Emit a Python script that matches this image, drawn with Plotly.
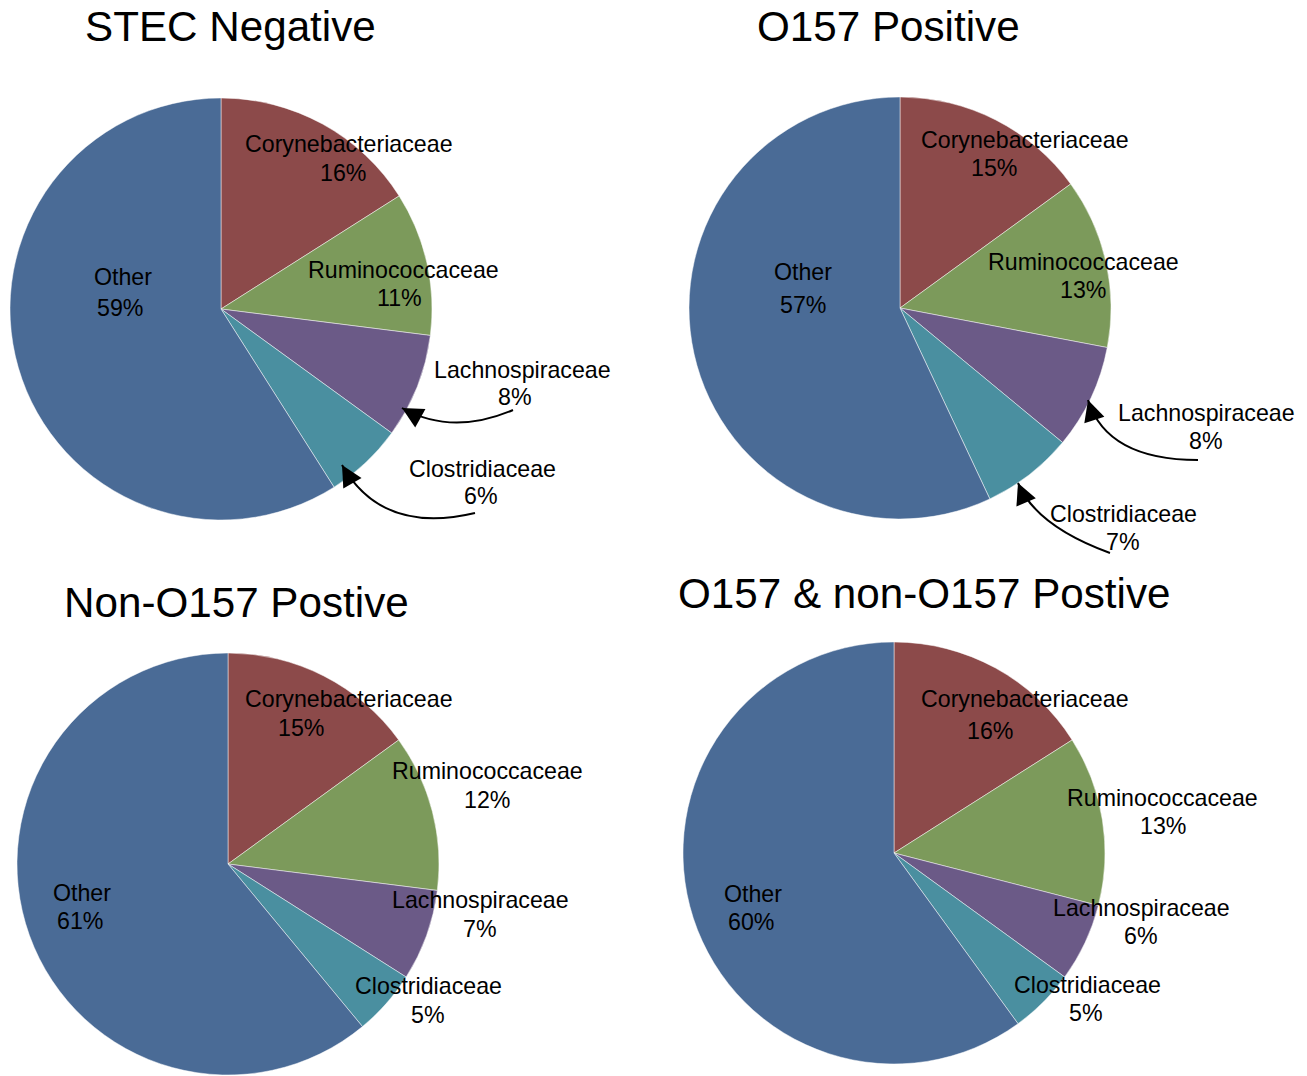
import plotly.graph_objects as go

W, H = 1307, 1076

# Families shown in every pie, in clockwise order from 12 o'clock
families = ["Corynebacteriaceae", "Ruminococcaceae", "Lachnospiraceae",
            "Clostridiaceae", "Other"]
colors = ["#8C4A4A", "#7C9A5B", "#6B5A87", "#4A8FA0", "#4A6B96"]

# Relative abundance (%) per sample group
titles = ["STEC Negative", "O157 Positive", "Non-O157 Postive",
          "O157 & non-O157 Postive"]
stec_negative = [16, 11, 8, 6, 59]
o157_positive = [15, 13, 8, 7, 57]
non_o157_positive = [15, 12, 7, 5, 61]
both_positive = [16, 13, 6, 5, 60]
groups = [stec_negative, o157_positive, non_o157_positive, both_positive]

# Pie centres and radius in pixels
centers = [(221, 309), (900, 308), (228, 864), (894, 853)]
radius = 211
title_pos = [(230, 27), (888, 27), (236, 603), (925, 594)]

# Label placement per pie: (name x, name y, pct x, pct y) for each family
label_pos = [
    [(349, 144, 343, 173), (404, 270, 399, 298), (522, 370, 515, 397),
     (482, 469, 481, 496), (123, 277, 120, 308)],
    [(1025, 140, 994, 168), (1083, 262, 1083, 290), (1206, 413, 1206, 441),
     (1123, 514, 1123, 542), (803, 272, 803, 305)],
    [(349, 699, 301, 728), (487, 771, 487, 800), (480, 900, 480, 929),
     (428, 986, 428, 1015), (82, 893, 80, 921)],
    [(1025, 699, 990, 731), (1162, 798, 1163, 826), (1141, 908, 1141, 936),
     (1087, 985, 1086, 1013), (753, 894, 751, 922)],
]

# Curved leader arrows: (tail, control, tip) in pixels
arrows = [
    ((513, 410), (452, 436), (402, 408)),
    ((475, 513), (382, 535), (342, 465)),
    ((1198, 460), (1107, 460), (1088, 400)),
    ((1110, 553), (1036, 526), (1018, 483)),
]


def px(x):
    return x / W


def py(y):
    return 1 - y / H


FONT = "Liberation Sans, Arial, sans-serif"
LABEL_SIZE = 23.2
TITLE_SIZE = 42.2

fig = go.Figure()
for vals, (cx, cy) in zip(groups, centers):
    fig.add_trace(go.Pie(
        labels=families, values=vals, sort=False, direction="clockwise",
        rotation=0, textinfo="none", hoverinfo="label+percent",
        marker=dict(colors=colors, line=dict(color="rgba(255,255,255,0.6)", width=0.8)),
        domain=dict(x=[px(cx - radius), px(cx + radius)],
                    y=[py(cy + radius), py(cy - radius)]),
        showlegend=False,
    ))

annotations = []
for t, (tx, ty) in zip(titles, title_pos):
    annotations.append(dict(text=t, x=px(tx), y=py(ty), xref="paper", yref="paper",
                            showarrow=False, xanchor="center", yanchor="middle",
                            font=dict(family=FONT, size=TITLE_SIZE, color="black")))

for vals, positions in zip(groups, label_pos):
    for name, v, (nx, ny, qx, qy) in zip(families, vals, positions):
        annotations.append(dict(text=name, x=px(nx), y=py(ny), xref="paper", yref="paper",
                                showarrow=False, xanchor="center", yanchor="middle",
                                font=dict(family=FONT, size=LABEL_SIZE, color="black")))
        annotations.append(dict(text=f"{v}%", x=px(qx), y=py(qy), xref="paper", yref="paper",
                                showarrow=False, xanchor="center", yanchor="middle",
                                font=dict(family=FONT, size=LABEL_SIZE, color="black")))

shapes = []
for (t0, c, t1) in arrows:
    path = (f"M {px(t0[0])},{py(t0[1])} Q {px(c[0])},{py(c[1])} "
            f"{px(t1[0])},{py(t1[1])}")
    shapes.append(dict(type="path", path=path, xref="paper", yref="paper",
                       line=dict(color="black", width=2)))
    dx, dy = t1[0] - c[0], t1[1] - c[1]
    n = (dx * dx + dy * dy) ** 0.5
    back = 20
    annotations.append(dict(
        text="", x=px(t1[0]), y=py(t1[1]), xref="paper", yref="paper",
        ax=-dx / n * back, ay=-dy / n * back, showarrow=True,
        arrowhead=2, arrowsize=2.1, arrowwidth=2, arrowcolor="black"))

fig.update_layout(
    width=W, height=H, margin=dict(l=0, r=0, t=0, b=0),
    paper_bgcolor="white", plot_bgcolor="white",
    annotations=annotations, shapes=shapes,
)

fig.write_html("out.html")
